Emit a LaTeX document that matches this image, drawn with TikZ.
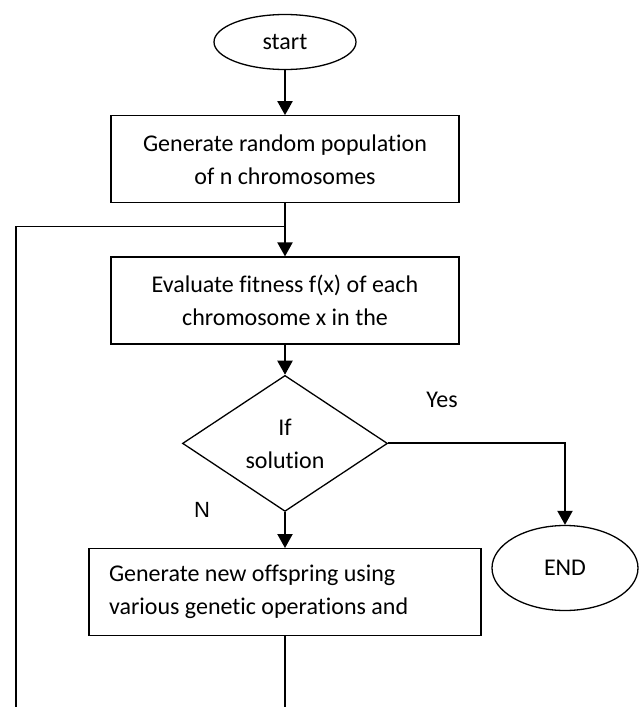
\documentclass[tikz,border=0pt]{standalone}
\usepackage{fontspec}
\setmainfont{Carlito}[Ligatures=NoCommon]
\newfontfamily\arialfont{Liberation Sans}
\usetikzlibrary{arrows.meta,positioning,shapes.geometric}
\tikzset{
  box/.style={
    draw,
    line width=1.3pt,
    align=center,
    inner sep=0pt,
    minimum width=348pt,
    minimum height=87pt
  },
  terminal/.style={ellipse, draw, line width=1.3pt, inner sep=0pt},
  decision/.style={diamond, draw, line width=1.3pt, aspect=1.5, inner sep=0pt,
    minimum width=205pt, minimum height=136pt, align=center},
  arrow/.style={-{Triangle[length=14pt,width=15pt]}, line width=2pt},
  link/.style={line width=1.5pt}
}

\begin{document}
\begin{tikzpicture}[x=1pt, y=-1pt, font=\fontsize{24}{33}\selectfont]
    \useasboundingbox (0,0) rectangle (644,707);
    \node[terminal, minimum width=142pt, minimum height=55pt] (start) at (285,42) {start};
    \node[box, below=45pt of start] (gen) {Generate random population\\of n chromosomes};
    \node[box, below=53pt of gen] (eval) {Evaluate fitness f(x) of each\\chromosome x in the};
    \node[decision, below=30pt of eval] (test) {If\\solution};
    \node[box, below=36pt of test, minimum width=392pt, text width=352pt, align=flush left] (offspring) {Generate new offspring using\\various genetic operations and};
    \node[terminal, minimum width=146pt, minimum height=85pt] (done) at (565,568) {END};
    \node (yes) at (442,400) {Yes};
    \node[font=\arialfont\fontsize{22}{26}\selectfont] (no) at (202,510) {N};
    \coordinate[below=23pt of gen] (join);
    \coordinate (loopfoot) at (16,707);
    \draw[arrow] (start) -- (gen);
    \draw[arrow] (gen) -- (eval);
    \draw[arrow] (eval) -- (test);
    \draw[arrow] (test) -- (offspring);
    \draw[arrow] (test.east) -| (done.north);
    \draw[link] (offspring) -- (offspring.south |- loopfoot);
    \draw[link] (loopfoot) |- (join);
  \end{tikzpicture}
\end{document}
